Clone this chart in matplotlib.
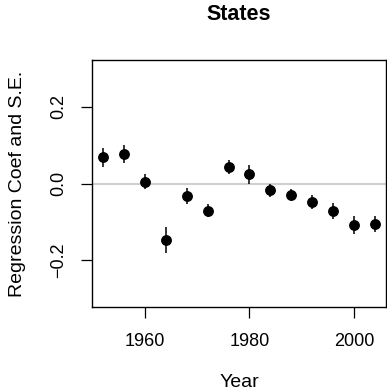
import numpy as np
import matplotlib
matplotlib.use("Agg")
import matplotlib.pyplot as plt

plt.rcParams["font.family"] = ["Liberation Sans", "DejaVu Sans"]

# regression coefficient per year with its standard error
years = [1952, 1956, 1960, 1964, 1968, 1972, 1976, 1980, 1984, 1988, 1992, 1996, 2000, 2004]
coef = [0.068, 0.077, 0.005, -0.147, -0.032, -0.071, 0.044, 0.024, -0.018, -0.030, -0.0475, -0.071, -0.109, -0.105]
se = [0.024, 0.024, 0.019, 0.034, 0.021, 0.017, 0.018, 0.025, 0.018, 0.016, 0.018, 0.021, 0.023, 0.021]

xticks = [1960, 1980, 2000]
yticks = [-0.2, 0.0, 0.2]
ytick_labels = ["\u22120.2", "0.0", "0.2"]

W, H = 387, 391
fig = plt.figure(figsize=(W / 100, H / 100), dpi=100)
ax = fig.add_axes([92 / W, 1 - 307 / H, (386 - 92) / W, (307 - 60) / H])

ax.axhline(0, color="#cfcfcf", lw=1.5, zorder=1)
c = np.array(coef); s = np.array(se)
ax.vlines(years, c - s, c + s, color="black", lw=1.1, zorder=2)
ax.plot(years, coef, "o", color="black", ms=6.8, zorder=3)

span = years[-1] - years[0]
ax.set_xlim(years[0] - 0.04 * span, years[-1] + 0.04 * span)
ax.set_ylim(-0.3225, 0.3225)

ax.set_xticks(xticks)
ax.set_xticklabels([str(t) for t in xticks], fontsize=13)
ax.set_yticks(yticks)
ax.set_yticklabels(ytick_labels, fontsize=13, rotation=90, va="center")
ax.tick_params(axis="both", direction="out", length=7.6, width=0.9)
ax.tick_params(axis="x", pad=11)
ax.tick_params(axis="y", pad=10)
for sp in ax.spines.values():
    sp.set_linewidth(1.0)

ax.set_xlabel("Year", fontsize=14)
ax.xaxis.set_label_coords(0.5, -0.27)
ax.set_ylabel("Regression Coef and S.E.", fontsize=14, va="center")
ax.yaxis.set_label_coords(-0.252, 0.5)
ax.set_title("States", fontsize=15.5, fontweight="bold", pad=29)

fig.savefig("out.png", dpi=100)
